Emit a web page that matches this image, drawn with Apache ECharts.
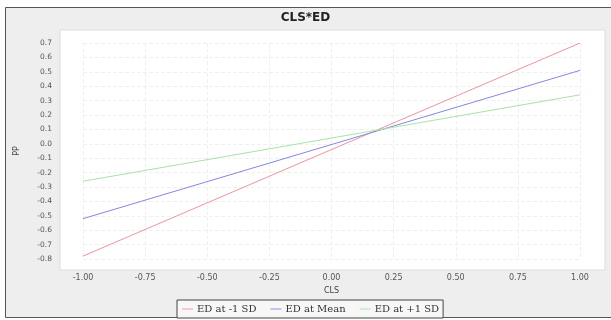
<!DOCTYPE html>
<html>
<head>
<meta charset="utf-8">
<script src="https://cdn.jsdelivr.net/npm/echarts@6/dist/echarts.min.js"></script>
<style>
  html, body { margin: 0; padding: 0; background: #ffffff; }
  #chart { width: 611px; height: 320px; }
</style>
</head>
<body>
<div id="chart"></div>
<script>
// CLS values at which each simple slope is evaluated
const clsPoints = [-1.0, 1.0];
// Predicted values for each level of ED
const edLowSD = [-0.78, 0.70];
const edMean = [-0.52, 0.51];
const edHighSD = [-0.26, 0.34];
const seriesNames = ['ED at -1 SD', 'ED at Mean', 'ED at +1 SD'];
const seriesColors = ['#f2929d', '#8686e4', '#a6e4a2'];

const chart = echarts.init(document.getElementById('chart'));

function pairs(ys) {
  return clsPoints.map((x, i) => [x, ys[i]]);
}

const lineSeries = [edLowSD, edMean, edHighSD].map((ys, i) => ({
  name: seriesNames[i],
  type: 'line',
  data: pairs(ys),
  symbol: 'none',
  lineStyle: { color: seriesColors[i], width: 1 },
  itemStyle: { color: seriesColors[i] },
  z: 3
}));

chart.setOption({
  animation: false,
  backgroundColor: '#ffffff',
  graphic: [
    {
      type: 'rect', z: -20, silent: true,
      shape: { x: 5.5, y: 7.5, width: 610, height: 310 },
      style: { fill: '#eeeeee', stroke: '#555555', lineWidth: 1 }
    },
    {
      type: 'rect', z: -10, silent: true,
      shape: { x: 60, y: 30, width: 545, height: 240 },
      style: { fill: '#ffffff', stroke: '#dddddd', lineWidth: 1 }
    }
  ],
  title: {
    text: 'CLS*ED',
    left: 'center',
    top: 7,
    textStyle: { fontFamily: 'DejaVu Sans', fontSize: 12, fontWeight: 'bold', color: '#222222' }
  },
  legend: {
    data: seriesNames,
    left: 177,
    top: 300,
    padding: [4, 4, 4, 5],
    itemGap: 14,
    itemWidth: 11,
    itemHeight: 8,
    icon: 'path://M0,4 L12,4 L12,5 L0,5 Z',
    borderColor: '#444444',
    borderWidth: 1,
    backgroundColor: '#f7f7f7',
    textStyle: { fontFamily: 'DejaVu Serif', fontSize: 10, color: '#333333', padding: [0, 0, 0, -1] }
  },
  grid: { left: 83, right: 31, top: 43, bottom: 61 },
  xAxis: {
    type: 'value',
    min: -1.0,
    max: 1.0,
    interval: 0.25,
    name: 'CLS',
    nameLocation: 'middle',
    nameGap: 28,
    nameTextStyle: { fontFamily: 'DejaVu Sans', fontSize: 8, color: '#444444' },
    axisLine: { show: false },
    axisTick: { show: false },
    axisLabel: {
      fontFamily: 'DejaVu Sans', fontSize: 8, color: '#555555', margin: 15,
      formatter: v => v.toFixed(2)
    },
    splitLine: { show: true, lineStyle: { color: '#f0f0f0', type: 'dashed', width: 1 } }
  },
  yAxis: {
    type: 'value',
    min: -0.8,
    max: 0.7,
    interval: 0.1,
    name: 'PP',
    nameLocation: 'middle',
    nameGap: 62,
    nameRotate: 90,
    nameTextStyle: { fontFamily: 'DejaVu Sans', fontSize: 8, color: '#444444' },
    axisLine: { show: false },
    axisTick: { show: false },
    axisLabel: {
      fontFamily: 'DejaVu Sans', fontSize: 7.5, color: '#555555', margin: 31,
      formatter: v => v.toFixed(1)
    },
    splitLine: { show: true, lineStyle: { color: '#f0f0f0', type: 'dashed', width: 1 } }
  },
  series: lineSeries
});
</script>
</body>
</html>
